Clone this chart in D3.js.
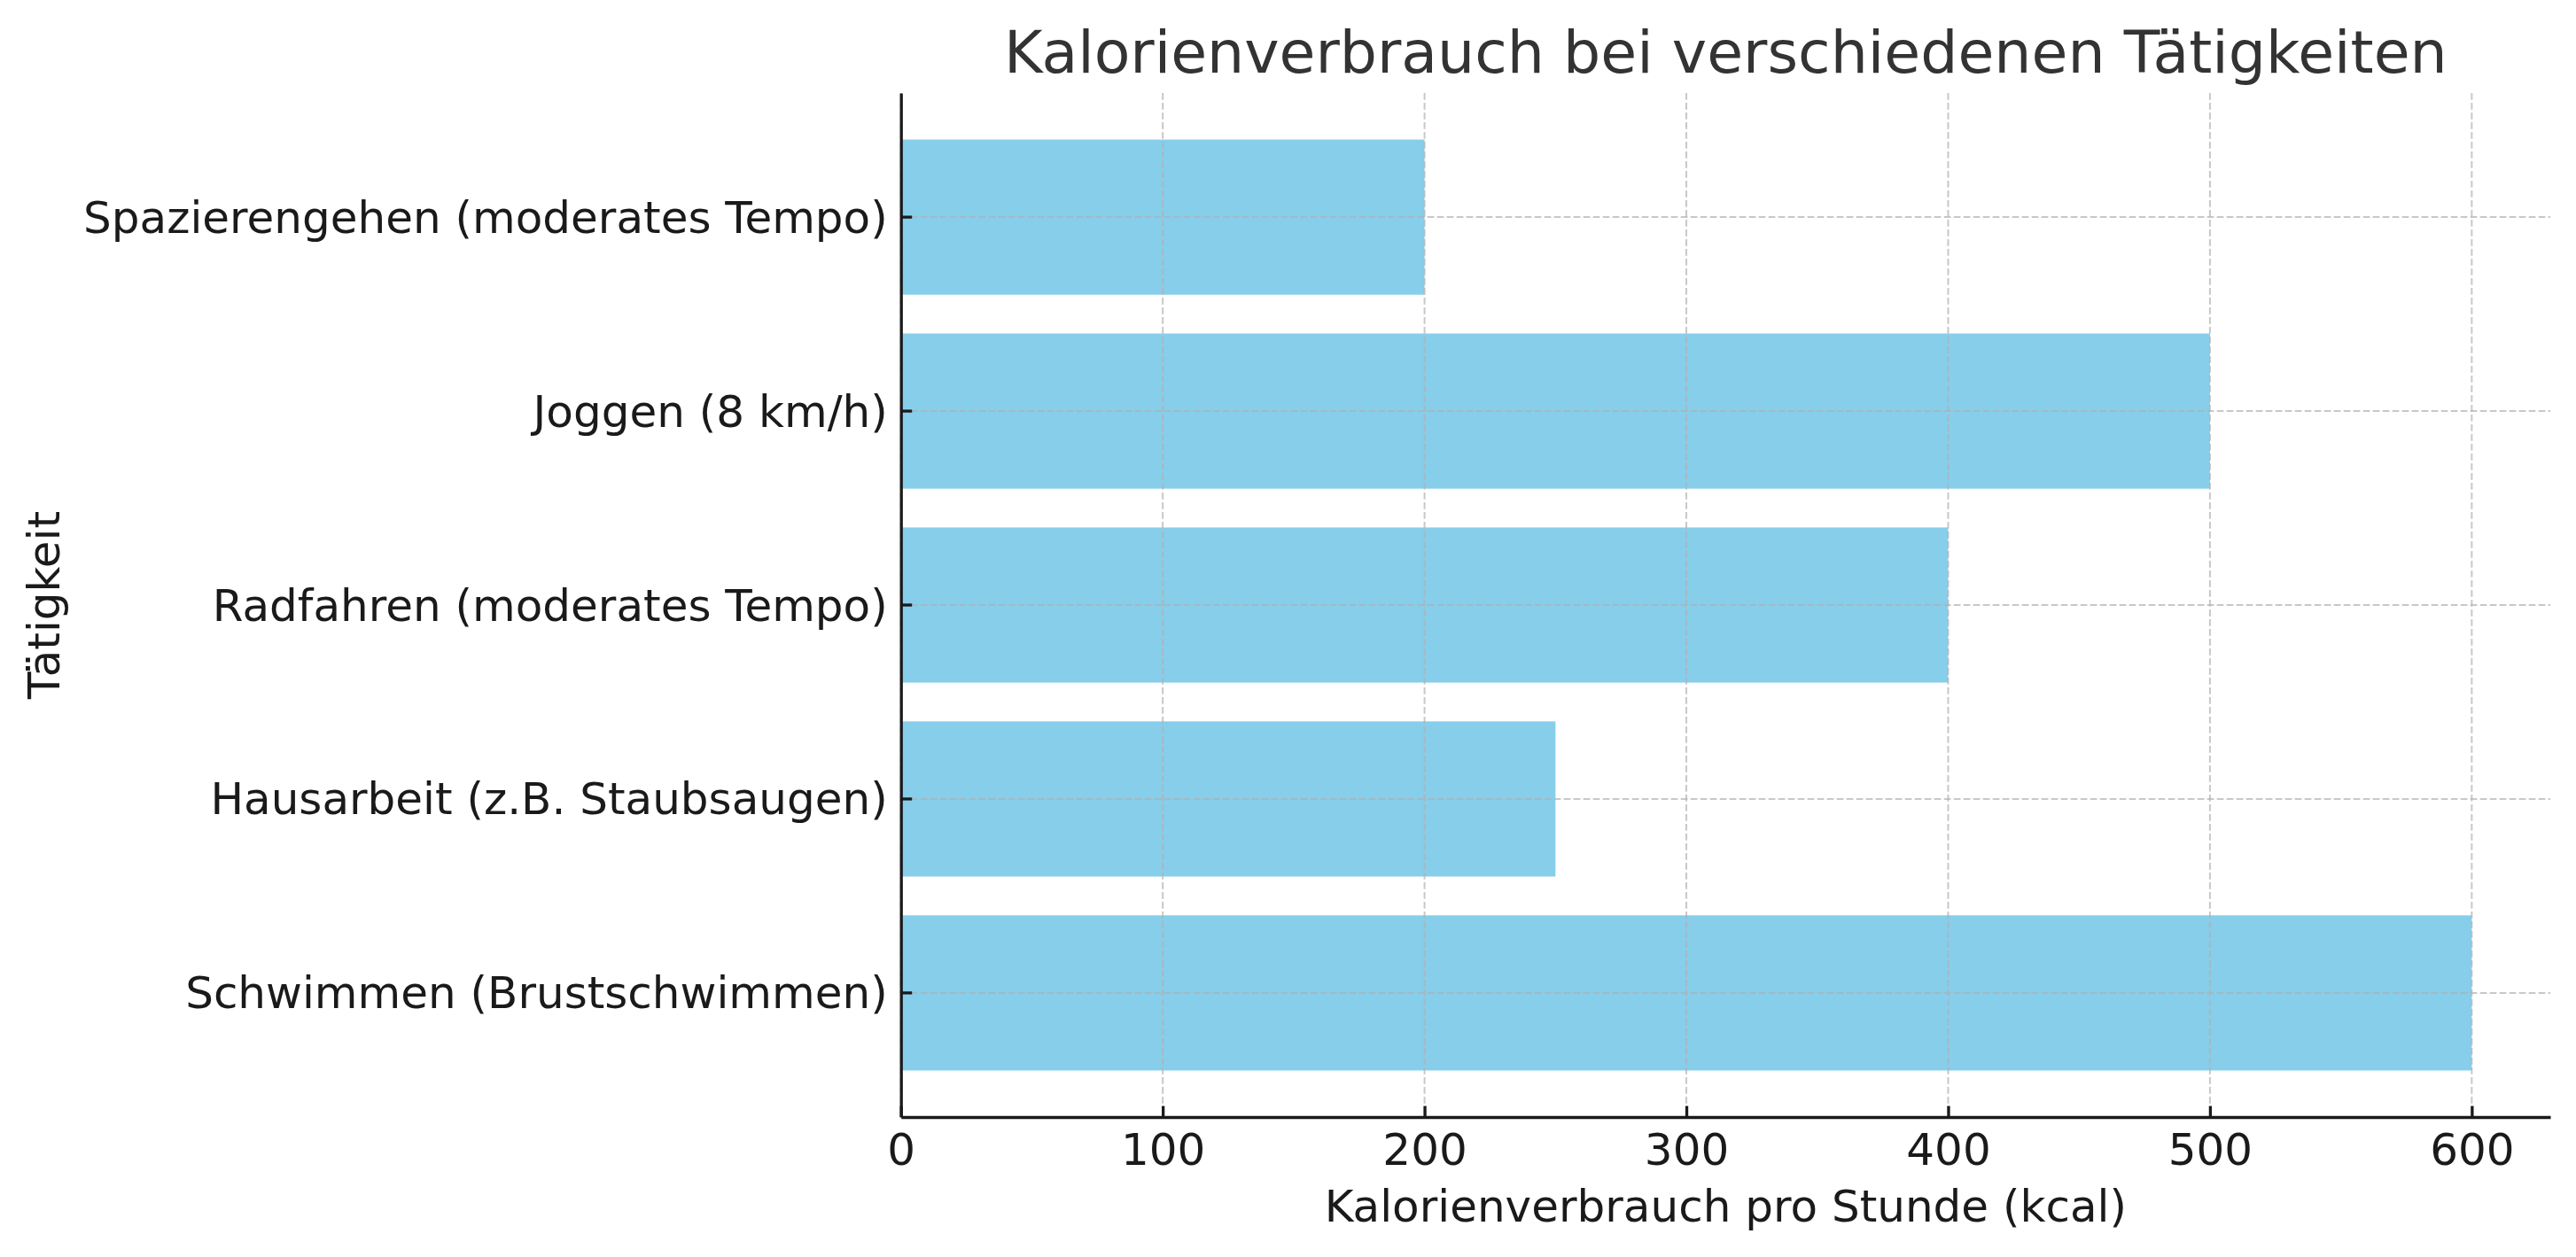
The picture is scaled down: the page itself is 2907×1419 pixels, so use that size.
<!DOCTYPE html>
<html><head><meta charset="utf-8">
<script src="https://cdn.jsdelivr.net/npm/d3@7"></script>
<style>body{margin:0;background:#fff}svg{display:block}text{font-family:"DejaVu Sans",sans-serif}</style>
</head><body>
<script>
const categories = ["Spazierengehen (moderates Tempo)","Joggen (8 km/h)","Radfahren (moderates Tempo)","Hausarbeit (z.B. Staubsaugen)","Schwimmen (Brustschwimmen)"];
const values = [200, 500, 400, 250, 600];
const xTicks = [0, 100, 200, 300, 400, 500, 600];
const title = "Kalorienverbrauch bei verschiedenen Tätigkeiten";
const xLabel = "Kalorienverbrauch pro Stunde (kcal)";
const yLabel = "Tätigkeit";

const W = 2907, H = 1419;
const L = 1016.7, R = 2878, T = 105, B = 1261;
const svg = d3.select("body").append("svg").attr("width", W).attr("height", H);

const x = d3.scaleLinear().domain([0, 630]).range([L, R]);
const y = d3.scaleBand().domain(categories).range([T, B]).paddingInner(0.2).paddingOuter(0.24);

// bars
svg.append("g").selectAll("rect").data(categories).join("rect")
  .attr("x", x(0)).attr("y", d => y(d))
  .attr("width", (d,i) => x(values[i]) - x(0))
  .attr("height", y.bandwidth())
  .attr("fill", "#87CEEB");

// grid
const grid = svg.append("g").attr("stroke", "#b0b0b0").attr("stroke-opacity", 0.7)
  .attr("stroke-width", 2).attr("stroke-dasharray", "7.7,3.3").attr("fill", "none");
grid.selectAll("line.v").data(xTicks).join("line").attr("class","v")
  .attr("x1", d => x(d)).attr("x2", d => x(d)).attr("y1", T).attr("y2", B);
grid.selectAll("line.h").data(categories).join("line").attr("class","h")
  .attr("x1", L).attr("x2", R)
  .attr("y1", d => y(d) + y.bandwidth()/2).attr("y2", d => y(d) + y.bandwidth()/2);

// axes
const xAxis = d3.axisBottom(x).tickValues(xTicks).tickSize(-12.5).tickPadding(24).tickSizeOuter(0);
const gx = svg.append("g").attr("transform", `translate(0,${B})`).call(xAxis);
gx.select(".domain").attr("stroke", "#1a1a1a").attr("stroke-width", 3.3);
gx.selectAll(".tick line").attr("stroke", "#1a1a1a").attr("stroke-width", 3.3);
gx.selectAll(".tick text").attr("font-size", 50).attr("fill", "#1a1a1a")
  .attr("font-family", "DejaVu Sans").attr("dy", null).attr("y", 54);

const yAxis = d3.axisLeft(y).tickSize(-12.5).tickPadding(15).tickSizeOuter(0);
const gy = svg.append("g").attr("transform", `translate(${L},0)`).call(yAxis);
gy.select(".domain").attr("stroke", "#1a1a1a").attr("stroke-width", 3.3);
gy.selectAll(".tick line").attr("stroke", "#1a1a1a").attr("stroke-width", 3.3);
gy.selectAll(".tick text").attr("font-size", 50).attr("fill", "#1a1a1a")
  .attr("font-family", "DejaVu Sans").attr("x", -15).attr("dy", "0.35em");

// labels
svg.append("text").attr("x", (L+R)/2).attr("y", 82).attr("text-anchor", "middle")
  .attr("font-size", 66.5).attr("fill", "#333333").text(title);
svg.append("text").attr("x", (L+R)/2).attr("y", 1379).attr("text-anchor", "middle")
  .attr("font-size", 50).attr("fill", "#1a1a1a").text(xLabel);
svg.append("text").attr("transform", `translate(67,${(T+B)/2}) rotate(-90)`).attr("text-anchor", "middle")
  .attr("font-size", 50).attr("fill", "#1a1a1a").text(yLabel);
</script>
</body></html>
